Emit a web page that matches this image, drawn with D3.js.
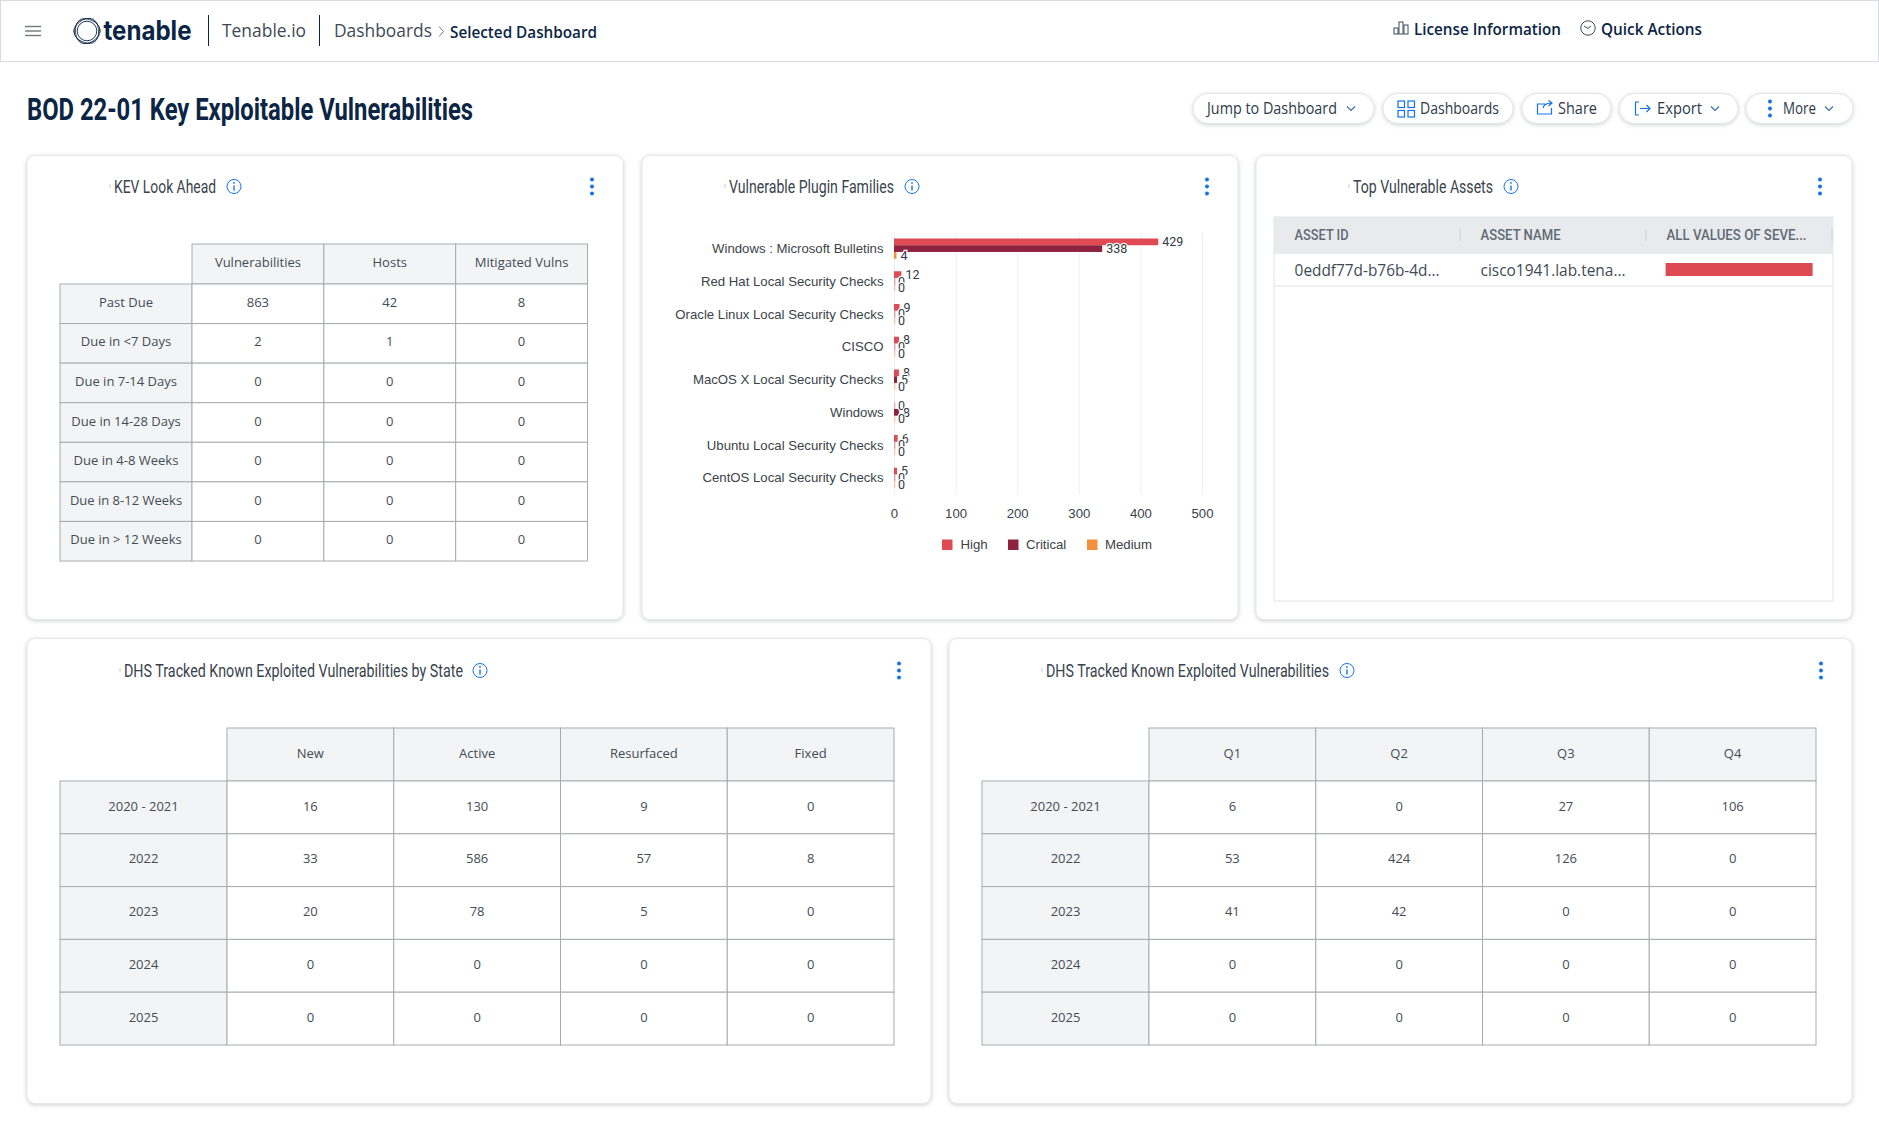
<!DOCTYPE html>
<html>
<head>
<meta charset="utf-8">
<title>BOD 22-01 Key Exploitable Vulnerabilities</title>
<script src="https://cdn.jsdelivr.net/npm/d3@7"></script>
<style>
  html, body { margin: 0; padding: 0; background: #fff; }
  svg { display: block; }
  .card { fill: #fff; stroke: #e6e8ea; filter: drop-shadow(0 1px 2px rgba(60,70,80,.26)); }
  .btn { fill: #fff; stroke: #e4e6e8; filter: drop-shadow(0 1px 2px rgba(60,70,80,.25)); }
  .cat-axis text, .val-axis text, .legend text { font-family: "Liberation Sans", sans-serif; font-size: 13.2px; fill: #3b4249; }
  .val-axis line { stroke: #eeeff1; }
  .bar-label { font-family: Roboto, sans-serif; font-size: 12.5px; fill: #333a42; stroke: #fff; stroke-width: 2.5px; paint-order: stroke; }
  .cell { font-family: "Open Sans", sans-serif; font-size: 13px; fill: #434c55; text-anchor: middle; }
</style>
</head>
<body>
<svg id="page" width="1879" height="1133"></svg>
<script>
// plugin families chart
var families = ["Windows : Microsoft Bulletins", "Red Hat Local Security Checks", "Oracle Linux Local Security Checks",
  "CISCO", "MacOS X Local Security Checks", "Windows", "Ubuntu Local Security Checks", "CentOS Local Security Checks"];
var severities = ["High", "Critical", "Medium"];
var highCounts = [429, 12, 9, 8, 8, 0, 6, 5];
var criticalCounts = [338, 0, 0, 0, 5, 8, 0, 0];
var mediumCounts = [4, 0, 0, 0, 0, 0, 0, 0];
var countTicks = [0, 100, 200, 300, 400, 500];

// KEV look ahead table
var kevRows = ["Past Due", "Due in <7 Days", "Due in 7-14 Days", "Due in 14-28 Days", "Due in 4-8 Weeks", "Due in 8-12 Weeks", "Due in > 12 Weeks"];
var kevCols = ["Vulnerabilities", "Hosts", "Mitigated Vulns"];
var kevValues = [[863, 42, 8], [2, 1, 0], [0, 0, 0], [0, 0, 0], [0, 0, 0], [0, 0, 0], [0, 0, 0]];

// DHS tables
var yearRows = ["2020 - 2021", "2022", "2023", "2024", "2025"];
var stateCols = ["New", "Active", "Resurfaced", "Fixed"];
var stateValues = [[16, 130, 9, 0], [33, 586, 57, 8], [20, 78, 5, 0], [0, 0, 0, 0], [0, 0, 0, 0]];
var quarterCols = ["Q1", "Q2", "Q3", "Q4"];
var quarterValues = [[6, 0, 27, 106], [53, 424, 126, 0], [41, 42, 0, 0], [0, 0, 0, 0], [0, 0, 0, 0]];

// top assets table
var assetCols = ["ASSET ID", "ASSET NAME", "ALL VALUES OF SEVE..."];
var assetRow = ["0eddf77d-b76b-4d...", "cisco1941.lab.tena..."];
var assetSeverityShare = [1];

var severityColors = ["#e04b53", "#8f233f", "#f2903f"];
var navy = "#0b2545";
var blue = "#1473e6";
var svg = d3.select("#page");

// text helper, w squeezes the text to the measured width of the original font
function label(g, str, x, y, o) {
  o = o || {};
  var t = g.append("text")
    .attr("x", x)
    .attr("y", y)
    .attr("dy", ".35em")
    .attr("font-family", o.font || "Roboto, sans-serif")
    .attr("font-size", o.size || 14)
    .attr("font-weight", o.weight || 400)
    .attr("fill", o.fill || "#333d47")
    .text(str);
  if (o.w) t.attr("textLength", o.w).attr("lengthAdjust", "spacingAndGlyphs");
  return t;
}

function infoIcon(cx, cy) {
  var g = svg.append("g").attr("transform", `translate(${cx},${cy})`).attr("stroke", blue).attr("fill", "none");
  g.append("circle").attr("r", 7);
  g.append("path").attr("d", "M0,-1V4").attr("stroke-width", 1.4);
  g.append("circle").attr("cy", -3.6).attr("r", .9).attr("fill", blue).attr("stroke", "none");
}

function dots(cx, cy) {
  svg.append("g").selectAll("circle").data([-7, 0, 7]).enter().append("circle")
    .attr("cx", cx).attr("cy", d => cy + d).attr("r", 2).attr("fill", blue);
}

function chevron(cx, cy) {
  svg.append("path").attr("d", `M${cx - 4},${cy - 2}L${cx},${cy + 2}L${cx + 4},${cy - 2}`)
    .attr("fill", "none").attr("stroke", "#3f6ea8").attr("stroke-width", 1.2);
}

// ---- top bar ----
svg.append("rect").attr("x", .5).attr("y", .5).attr("width", 1878).attr("height", 61)
  .attr("fill", "#fff").attr("stroke", "#d8dbdf");
[26.5, 31, 35.5].forEach(function(y) {
  svg.append("path").attr("d", `M25,${y}H41`).attr("stroke", "#6f7780").attr("stroke-width", 1.4);
});

// logo ring
var logo = svg.append("g").attr("transform", "translate(87,31)").attr("fill", "none").attr("stroke", navy);
[[0, 13.4], [22, 12.6], [45, 13]].forEach(function(a) {
  logo.append("path")
    .attr("d", d3.line().curve(d3.curveCardinalClosed.tension(.5))(d3.range(6).map(function(i) {
      var r = (i * 60 + a[0]) * Math.PI / 180;
      return [a[1] * Math.cos(r), a[1] * Math.sin(r)];
    })))
    .attr("stroke-width", .8);
});
logo.append("circle").attr("r", 9.8).attr("stroke-width", .9);

label(svg, "tenable", 103.5, 31, { size: 27, weight: 700, fill: navy, w: 88, font: "Inter, sans-serif" });
[208.5, 319.5].forEach(function(x) {
  svg.append("path").attr("d", `M${x},15V46`).attr("stroke", navy).attr("stroke-width", 1);
});
label(svg, "Tenable.io", 222, 31, { size: 18, w: 84, fill: "#3f4a55", font: "Open Sans, sans-serif" });
label(svg, "Dashboards", 334, 31, { size: 18, w: 98, fill: "#3f4a55", font: "Open Sans, sans-serif" });
svg.append("path").attr("d", "M439,26.5L443.5,31.5L439,36.5").attr("fill", "none").attr("stroke", "#6f7780");
label(svg, "Selected Dashboard", 450, 32, { size: 16, weight: 600, w: 147, fill: navy, font: "Open Sans, sans-serif" });

// right side of the top bar
var licIcon = svg.append("g").attr("fill", "none").attr("stroke", "#3a4a5c");
[[1394, 28, 5], [1399, 22, 11], [1404, 25, 8]].forEach(function(b) {
  licIcon.append("rect").attr("x", b[0]).attr("y", b[1]).attr("width", 4).attr("height", b[2] + 1);
});
label(svg, "License Information", 1414, 29.5, { size: 16, weight: 600, w: 147, fill: navy, font: "Open Sans, sans-serif" });
svg.append("circle").attr("cx", 1588).attr("cy", 28).attr("r", 7.2).attr("fill", "none").attr("stroke", "#3a4a5c");
svg.append("path").attr("d", "M1584,26L1588,28.5L1591,26").attr("fill", "none").attr("stroke", "#3a4a5c");
label(svg, "Quick Actions", 1601, 29.5, { size: 16, weight: 600, w: 101, fill: navy, font: "Open Sans, sans-serif" });

// ---- page title and buttons ----
label(svg, "BOD 22-01 Key Exploitable Vulnerabilities", 27, 109, { size: 31, weight: 700, w: 446, fill: navy });

var buttons = [
  { x0: 1193, x1: 1374, text: "Jump to Dashboard", tx: 1207, tw: 130, chev: 1351 },
  { x0: 1383, x1: 1513, text: "Dashboards", tx: 1420, tw: 79 },
  { x0: 1522, x1: 1611, text: "Share", tx: 1558, tw: 39 },
  { x0: 1619.5, x1: 1738, text: "Export", tx: 1657, tw: 45, chev: 1715 },
  { x0: 1746, x1: 1853, text: "More", tx: 1783, tw: 33, chev: 1829 }
];
buttons.forEach(function(b) {
  svg.append("rect").attr("class", "btn").attr("x", b.x0).attr("y", 93.5).attr("width", b.x1 - b.x0).attr("height", 30).attr("rx", 15);
  label(svg, b.text, b.tx, 108.2, { size: 15.5, w: b.tw, weight: 500, fill: "#2c3a49", font: "Open Sans, sans-serif" });
  if (b.chev) chevron(b.chev, 108.5);
});

// button icons
var btnIcons = svg.append("g").attr("fill", "none").attr("stroke", blue).attr("stroke-width", 1.2);
[[1398, 101], [1408, 101], [1398, 110.5], [1408, 110.5]].forEach(function(p) {
  btnIcons.append("rect").attr("x", p[0]).attr("y", p[1]).attr("width", 6.5).attr("height", 6.5);
});
btnIcons.append("path").attr("d", "M1545,104H1537.5V114H1551.5V108M1543,108C1544,104 1547,103 1552,103M1548.5,100.5L1552,103L1548.5,106");
btnIcons.append("path").attr("d", "M1639,102H1635.5V115H1639M1640,108.5H1650M1646.5,105L1650,108.5L1646.5,112");
dots(1770, 108.5);

// ---- cards ----
var cards = [
  { x0: 27, x1: 623, y0: 155.5, y1: 619.5, title: "KEV Look Ahead", tx: 114, tw: 102, info: 234, dot: 592, ty: 186.5 },
  { x0: 642, x1: 1238, y0: 155.5, y1: 619.5, title: "Vulnerable Plugin Families", tx: 729, tw: 165, info: 912, dot: 1207, ty: 186.5 },
  { x0: 1256, x1: 1852, y0: 155.5, y1: 619.5, title: "Top Vulnerable Assets", tx: 1353, tw: 140, info: 1511, dot: 1820, ty: 186.5 },
  { x0: 27, x1: 931, y0: 638.5, y1: 1103.5, title: "DHS Tracked Known Exploited Vulnerabilities by State", tx: 124, tw: 339, info: 480, dot: 899, ty: 670.5 },
  { x0: 949, x1: 1852, y0: 638.5, y1: 1103.5, title: "DHS Tracked Known Exploited Vulnerabilities", tx: 1046, tw: 283, info: 1347, dot: 1821, ty: 670.5 }
];
cards.forEach(function(c) {
  svg.append("rect").attr("class", "card").attr("x", c.x0).attr("y", c.y0)
    .attr("width", c.x1 - c.x0).attr("height", c.y1 - c.y0).attr("rx", 8);
  // faint tick that sits in front of every title
  svg.append("path").attr("d", `M${c.tx - 4},${c.ty - 2}v3`).attr("stroke", "#b9bdc2");
  label(svg, c.title, c.tx, c.ty - .5, { size: 19, w: c.tw, fill: "#39434d" });
  infoIcon(c.info, c.ty);
  dots(c.dot, c.ty);
});

// ---- pivot tables ----
function pivotTable(rows, cols, values, left, top, headerBottom, bottom, right, rowHeadW) {
  var g = svg.append("g");
  var xScale = d3.scaleBand().domain(cols).range([left + rowHeadW, right]);
  var yScale = d3.scaleBand().domain(rows).range([headerBottom, bottom]);

  function cell(x, y, w, h, fill) {
    g.append("rect").attr("x", x).attr("y", y).attr("width", w).attr("height", h)
      .attr("fill", fill).attr("stroke", "#a8abae");
  }

  cols.forEach(function(col) {
    cell(xScale(col), top, xScale.bandwidth(), headerBottom - top, "#f3f4f6");
    g.append("text").attr("class", "cell").attr("dy", ".24em")
      .attr("x", xScale(col) + xScale.bandwidth() / 2).attr("y", (top + headerBottom) / 2).text(col);
  });
  rows.forEach(function(row, i) {
    cell(left, yScale(row), rowHeadW, yScale.bandwidth(), "#f3f4f6");
    g.append("text").attr("class", "cell").attr("dy", ".24em")
      .attr("x", left + rowHeadW / 2).attr("y", yScale(row) + yScale.bandwidth() / 2).text(row);
    cols.forEach(function(col, j) {
      cell(xScale(col), yScale(row), xScale.bandwidth(), yScale.bandwidth(), "#fff");
      g.append("text").attr("class", "cell").attr("dy", ".24em")
        .attr("x", xScale(col) + xScale.bandwidth() / 2).attr("y", yScale(row) + yScale.bandwidth() / 2)
        .text(values[i][j]);
    });
  });
}

pivotTable(kevRows, kevCols, kevValues, 60, 244, 284, 561, 587.5, 132);
pivotTable(yearRows, stateCols, stateValues, 60, 728, 781, 1045, 894, 167);
pivotTable(yearRows, quarterCols, quarterValues, 982, 728, 781, 1045, 1816, 167);

// ---- plugin families bar chart ----
var chartMargin = { left: 894, top: 232.5 };
var chartWidth = 308;
var chartHeight = 262;
var chart = svg.append("g").attr("transform", `translate(${chartMargin.left},${chartMargin.top})`);

var xLinear = d3.scaleLinear().domain([0, 500]).range([0, chartWidth]);
var yBand = d3.scaleBand().domain(families).range([0, chartHeight]);
var ySub = d3.scaleBand().domain(severities).range([6, 26.2]);
var colorScale = d3.scaleOrdinal().domain(severities).range(severityColors);

chart.append("g").attr("class", "val-axis")
  .attr("transform", `translate(0,${chartHeight})`)
  .call(d3.axisBottom(xLinear).tickValues(countTicks).tickSize(-chartHeight).tickPadding(14))
  .call(g => g.select(".domain").remove());

chart.append("g").attr("class", "cat-axis")
  .call(d3.axisLeft(yBand).tickSize(0).tickPadding(10.5))
  .call(g => g.select(".domain").remove());

var seriesCounts = [highCounts, criticalCounts, mediumCounts];
var rowsData = families.map(function(name, i) {
  return { name: name, values: severities.map((s, j) => ({ severity: s, count: seriesCounts[j][i] })) };
});

var rowGroups = chart.selectAll(".family").data(rowsData).enter().append("g")
  .attr("class", "family")
  .attr("transform", d => `translate(0,${yBand(d.name)})`);

// zero counts still show as a thin pale stub
rowGroups.selectAll("rect").data(d => d.values).enter().append("rect")
  .attr("x", xLinear(0))
  .attr("y", d => ySub(d.severity))
  .attr("width", d => Math.max(xLinear(d.count), 1.5))
  .attr("height", ySub.bandwidth())
  .attr("fill", d => colorScale(d.severity))
  .attr("fill-opacity", d => d.count === 0 ? .35 : 1);

rowGroups.selectAll("text").data(d => d.values).enter().append("text")
  .attr("class", "bar-label")
  .attr("x", d => xLinear(d.count) + 4)
  .attr("y", d => ySub(d.severity) + ySub.bandwidth() / 2)
  .attr("dy", ".35em")
  .text(d => d.count);

// legend
var legendX = [942, 1008, 1087];
var legend = svg.append("g").attr("class", "legend");
severities.forEach(function(s, i) {
  legend.append("rect").attr("x", legendX[i]).attr("y", 539.5).attr("width", 10.5).attr("height", 10.5).attr("fill", colorScale(s));
  legend.append("text").attr("x", legendX[i] + (i === 0 ? 18.5 : 18)).attr("y", 544.7).attr("dy", ".35em").text(s);
});

// ---- top vulnerable assets ----
var assetLeft = 1274, assetRight = 1833;
svg.append("rect").attr("x", assetLeft).attr("y", 217).attr("width", assetRight - assetLeft).attr("height", 384)
  .attr("fill", "#fff").attr("stroke", "#e2e4e7");
svg.append("rect").attr("x", assetLeft).attr("y", 217).attr("width", assetRight - assetLeft).attr("height", 37).attr("fill", "#e8eaed");
svg.append("path").attr("d", `M${assetLeft},286H${assetRight}`).attr("stroke", "#dfe1e4");

var assetX = d3.scalePoint().domain(assetCols).range([1294.6, 1666.5]);
var assetHeadW = [54, 80, 140];
assetCols.forEach(function(col, i) {
  label(svg, col, assetX(col), 235.5, { size: 14, weight: 500, w: assetHeadW[i], fill: "#616b76" });
  svg.append("path").attr("d", `M${assetX(col) + 165.5},229V241`).attr("stroke", "#cfd2d6");
  if (i < 2) label(svg, assetRow[i], assetX(col), 270.2, { size: 16, w: 145, fill: "#3f4a55", font: "Open Sans, sans-serif" });
});

var shareScale = d3.scaleLinear().domain([0, 1]).range([0, 147]);
svg.append("g").selectAll("rect").data(assetSeverityShare).enter().append("rect")
  .attr("x", 1665.6).attr("y", 263)
  .attr("width", d => shareScale(d))
  .attr("height", 13)
  .attr("fill", "#dd4a52");
</script>
</body>
</html>
